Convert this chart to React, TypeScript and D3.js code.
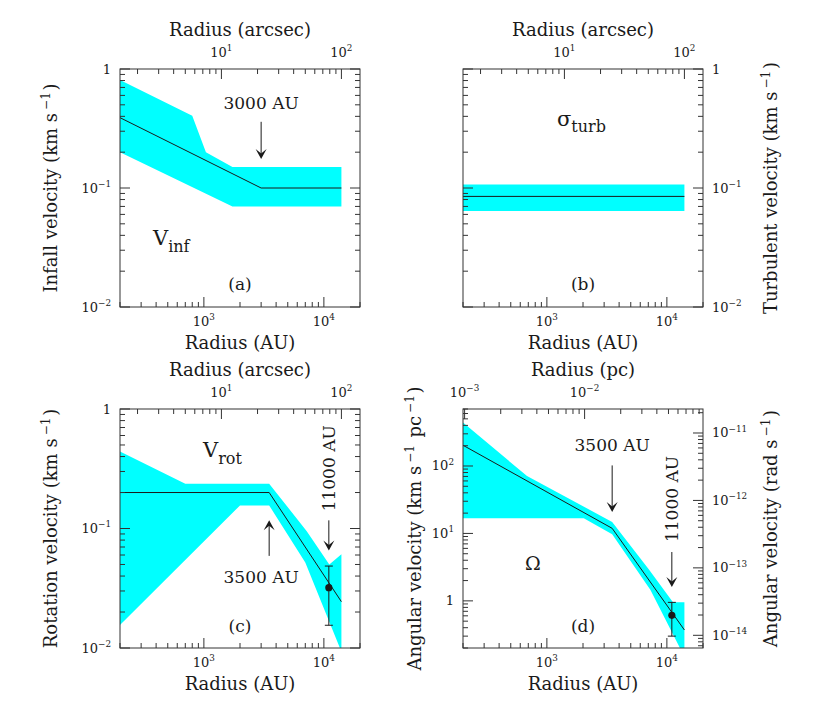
import * as d3 from "d3";
import type { ReactNode } from "react";

const W = 824;
const H = 717;
const FONT = "'DejaVu Serif', 'Liberation Serif', serif";
const INK = "#1a1a1a";
const CYAN = "#00ffff";

// secondary-axis conversions
const AU_PER_ARCSEC = 140; // 140 pc
const AU_PER_PC = 206265;
const RAD_PER_KMSPC = 3.2408e-14;

const radiusDomain: [number, number] = [200, 20000];

// (a) infall velocity, km/s
const infallR = [200, 3000, 14000];
const infallV = [0.39, 0.1, 0.1];
const infallHiR = [200, 800, 1040, 1730, 14000];
const infallHiV = [0.81, 0.405, 0.2, 0.15, 0.15];
const infallLoR = [200, 1730, 14000];
const infallLoV = [0.2, 0.07, 0.07];

// (b) turbulent velocity, km/s
const turbR = [200, 14000];
const turbV = [0.085, 0.085];
const turbHiV = [0.107, 0.107];
const turbLoV = [0.064, 0.064];

// (c) rotation velocity, km/s
const rotR = [200, 3500, 14000];
const rotV = [0.2, 0.2, 0.0244];
const rotHiR = [200, 700, 3500, 7200, 11100, 14000];
const rotHiV = [0.44, 0.237, 0.237, 0.095, 0.05, 0.061];
const rotLoR = [200, 2000, 3500, 7000, 13600, 14000];
const rotLoV = [0.0156, 0.156, 0.156, 0.052, 0.01, 0.01];
const rotPoint = { r: 11000, v: 0.032, lo: 0.0155, hi: 0.0485 };

// (d) angular velocity, km/s/pc
const omgR = [200, 3500, 14000];
const omgV = [203, 11.9, 0.37];
const omgHiR = [200, 683, 3500, 7060, 11240, 14000];
const omgHiV = [440, 71, 14.8, 2.95, 0.95, 0.95];
const omgLoR = [200, 2030, 3500, 7280, 12850, 14000];
const omgLoV = [16.8, 16.8, 9.7, 1.46, 0.2, 0.2];
const omgPoint = { r: 11000, v: 0.61, lo: 0.3, hi: 0.95 };

type Scale = d3.ScaleLogarithmic<number, number>;
type Pt = [number, number];

const zip = (r: number[], v: number[]): Pt[] => r.map((x, i) => [x, v[i]]);

function logTicks([lo, hi]: [number, number]) {
  const out: { v: number; major: boolean }[] = [];
  const e0 = Math.floor(Math.log10(lo));
  const e1 = Math.ceil(Math.log10(hi));
  for (let e = e0; e <= e1; e++) {
    for (let m = 1; m <= 9; m++) {
      const v = m * Math.pow(10, e);
      if (v >= lo * 0.9999 && v <= hi * 1.0001) out.push({ v, major: m === 1 });
    }
  }
  return out;
}

function powLabel(v: number, size: number) {
  const e = Math.round(Math.log10(v));
  if (e === 0) return <tspan>1</tspan>;
  return (
    <>
      <tspan>10</tspan>
      <tspan dy={-size * 0.45} fontSize={size * 0.68}>
        {e < 0 ? "\u2212" + -e : String(e)}
      </tspan>
    </>
  );
}

// superscript inside an axis title, back to the baseline afterwards
function sup(s: string) {
  return (
    <>
      <tspan dx={3} dy={-7} fontSize={12}>
        {s}
      </tspan>
      <tspan dy={7}>{"\u200a"}</tspan>
    </>
  );
}

interface PanelProps {
  id: string;
  left: number;
  top: number;
  w: number;
  h: number;
  yDomain: [number, number];
  topTitle: string;
  topFactor: number;
  leftLabels: boolean;
  rightLabels: boolean;
  rightFactor?: number;
  leftTitle?: ReactNode;
  leftTitleX?: number;
  rightTitle?: ReactNode;
  children: (x: Scale, y: Scale) => ReactNode;
}

const TICK = 10;
const MINOR = 5;
const TSIZE = 13;

function Panel(p: PanelProps) {
  const { left, top, w, h } = p;
  const right = left + w;
  const bottom = top + h;
  const x = d3.scaleLog().domain(radiusDomain).range([left, right]);
  const y = d3.scaleLog().domain(p.yDomain).range([bottom, top]);
  const xt = d3
    .scaleLog()
    .domain(radiusDomain.map((d) => d / p.topFactor))
    .range([left, right]);
  const rf = p.rightFactor ?? 1;
  const yr = d3
    .scaleLog()
    .domain(p.yDomain.map((d) => d * rf))
    .range([bottom, top]);
  const cx = (left + right) / 2;

  return (
    <g>
      <defs>
        <clipPath id={p.id}>
          <rect x={left} y={top} width={w} height={h} />
        </clipPath>
      </defs>
      <g clipPath={`url(#${p.id})`}>{p.children(x, y)}</g>

      {/* frame */}
      <rect x={left} y={top} width={w} height={h} fill="none" stroke="#333" strokeWidth={1} />

      {/* bottom radius axis */}
      {logTicks(radiusDomain).map((t, i) => (
        <line key={"b" + i} x1={x(t.v)} x2={x(t.v)} y1={bottom} y2={bottom - (t.major ? TICK : MINOR)} stroke="#333" />
      ))}
      {logTicks(radiusDomain)
        .filter((t) => t.major)
        .map((t, i) => (
          <text key={"bl" + i} x={x(t.v)} y={bottom + 19} textAnchor="middle" fontSize={TSIZE}>
            {powLabel(t.v, TSIZE)}
          </text>
        ))}
      <text x={cx} y={bottom + 42} textAnchor="middle" fontSize={18}>
        Radius (AU)
      </text>

      {/* top secondary axis */}
      {logTicks(xt.domain() as [number, number]).map((t, i) => (
        <line key={"t" + i} x1={xt(t.v)} x2={xt(t.v)} y1={top} y2={top + (t.major ? TICK : MINOR)} stroke="#333" />
      ))}
      {logTicks(xt.domain() as [number, number])
        .filter((t) => t.major)
        .map((t, i) => (
          <text key={"tl" + i} x={xt(t.v)} y={top - 12} textAnchor="middle" fontSize={TSIZE}>
            {powLabel(t.v, TSIZE)}
          </text>
        ))}
      <text x={cx} y={top - 33} textAnchor="middle" fontSize={18}>
        {p.topTitle}
      </text>

      {/* left axis */}
      {logTicks(p.yDomain).map((t, i) => (
        <line key={"l" + i} x1={left} x2={left + (t.major ? TICK : MINOR)} y1={y(t.v)} y2={y(t.v)} stroke="#333" />
      ))}
      {p.leftLabels &&
        logTicks(p.yDomain)
          .filter((t) => t.major)
          .map((t, i) => (
            <text key={"ll" + i} x={left - 9} y={y(t.v) + 4.5} textAnchor="end" fontSize={TSIZE}>
              {powLabel(t.v, TSIZE)}
            </text>
          ))}

      {/* right axis */}
      {logTicks(yr.domain() as [number, number]).map((t, i) => (
        <line key={"r" + i} x1={right} x2={right - (t.major ? TICK : MINOR)} y1={yr(t.v)} y2={yr(t.v)} stroke="#333" />
      ))}
      {p.rightLabels &&
        logTicks(yr.domain() as [number, number])
          .filter((t) => t.major)
          .map((t, i) => (
            <text key={"rl" + i} x={right + 9} y={yr(t.v) + 4.5} textAnchor="start" fontSize={TSIZE}>
              {powLabel(t.v, TSIZE)}
            </text>
          ))}

      {p.leftTitle && (
        <text
          transform={`translate(${p.leftTitleX ?? left - 63},${(top + bottom) / 2}) rotate(-90)`}
          textAnchor="middle"
          fontSize={18}
        >
          {p.leftTitle}
        </text>
      )}
      {p.rightTitle && (
        <text transform={`translate(${right + 74},${(top + bottom) / 2}) rotate(-90)`} textAnchor="middle" fontSize={18}>
          {p.rightTitle}
        </text>
      )}
    </g>
  );
}

function band(x: Scale, y: Scale, hi: Pt[], lo: Pt[]) {
  const line = d3
    .line<Pt>()
    .x((d) => x(d[0]))
    .y((d) => y(d[1]));
  return (line([...hi, ...lo.slice().reverse()]) ?? "") + "Z";
}

function curve(x: Scale, y: Scale, pts: Pt[]) {
  return (
    d3
      .line<Pt>()
      .x((d) => x(d[0]))
      .y((d) => y(d[1]))(pts) ?? ""
  );
}

function Arrow({ x, y1, y2 }: { x: number; y1: number; y2: number }) {
  const dir = y2 > y1 ? 1 : -1;
  const head = `M${x},${y2} L${x - 5.5},${y2 - dir * 10} L${x},${y2 - dir * 5.5} L${x + 5.5},${y2 - dir * 10} Z`;
  return (
    <g>
      <line x1={x} x2={x} y1={y1} y2={y2 - dir * 4} stroke={INK} strokeWidth={1} />
      <path d={head} fill={INK} />
    </g>
  );
}

function ErrPoint({ x, y, r, v, lo, hi }: { x: Scale; y: Scale; r: number; v: number; lo: number; hi: number }) {
  const px = x(r);
  return (
    <g stroke={INK} strokeWidth={1}>
      <line x1={px} x2={px} y1={y(lo)} y2={y(hi)} />
      <line x1={px - 4} x2={px + 4} y1={y(lo)} y2={y(lo)} />
      <line x1={px - 4} x2={px + 4} y1={y(hi)} y2={y(hi)} />
      <circle cx={px} cy={y(v)} r={3.6} fill={INK} stroke="none" />
    </g>
  );
}

const kms = (
  <>
    (km s{sup("\u22121")})
  </>
);

export default function App() {
  return (
    <svg
      width={W}
      height={H}
      viewBox={`0 0 ${W} ${H}`}
      style={{ position: "absolute", left: 0, top: 0, background: "#fff" }}
      fontFamily={FONT}
      fill={INK}
    >
      <rect width={W} height={H} fill="#fff" />

      {/* (a) */}
      <Panel
        id="ca"
        left={120}
        top={69}
        w={240}
        h={238}
        yDomain={[0.01, 1]}
        topTitle="Radius (arcsec)"
        topFactor={AU_PER_ARCSEC}
        leftLabels
        rightLabels={false}
        leftTitle={<>Infall velocity {kms}</>}
      >
        {(x, y) => (
          <>
            <path d={band(x, y, zip(infallHiR, infallHiV), zip(infallLoR, infallLoV))} fill={CYAN} />
            <path d={curve(x, y, zip(infallR, infallV))} fill="none" stroke={INK} strokeWidth={1} />
          </>
        )}
      </Panel>
      {(() => {
        const x = d3.scaleLog().domain(radiusDomain).range([120, 360]);
        const y = d3.scaleLog().domain([0.01, 1]).range([307, 69]);
        return (
          <g>
            <Arrow x={x(3000)} y1={y(0.36)} y2={y(0.175)} />
            <text x={x(3000)} y={y(0.36) - 13} textAnchor="middle" fontSize={17}>
              3000 AU
            </text>
            <text x={153} y={245} fontSize={21}>
              V<tspan dy={7} fontSize={16}>inf</tspan>
            </text>
            <text x={240} y={290} textAnchor="middle" fontSize={17}>
              (a)
            </text>
          </g>
        );
      })()}

      {/* (b) */}
      <Panel
        id="cb"
        left={463}
        top={69}
        w={240}
        h={238}
        yDomain={[0.01, 1]}
        topTitle="Radius (arcsec)"
        topFactor={AU_PER_ARCSEC}
        leftLabels={false}
        rightLabels
        rightTitle={<>Turbulent velocity {kms}</>}
      >
        {(x, y) => (
          <>
            <path d={band(x, y, zip(turbR, turbHiV), zip(turbR, turbLoV))} fill={CYAN} />
            <path d={curve(x, y, zip(turbR, turbV))} fill="none" stroke={INK} strokeWidth={1} />
          </>
        )}
      </Panel>
      <text x={557} y={126} fontSize={21}>
        σ<tspan dy={6} fontSize={16}>turb</tspan>
      </text>
      <text x={583} y={290} textAnchor="middle" fontSize={17}>
        (b)
      </text>

      {/* (c) */}
      <Panel
        id="cc"
        left={120}
        top={409}
        w={240}
        h={239}
        yDomain={[0.01, 1]}
        topTitle="Radius (arcsec)"
        topFactor={AU_PER_ARCSEC}
        leftLabels
        rightLabels={false}
        leftTitle={<>Rotation velocity {kms}</>}
      >
        {(x, y) => (
          <>
            <path d={band(x, y, zip(rotHiR, rotHiV), zip(rotLoR, rotLoV))} fill={CYAN} />
            <path d={curve(x, y, zip(rotR, rotV))} fill="none" stroke={INK} strokeWidth={1} />
          </>
        )}
      </Panel>
      {(() => {
        const x = d3.scaleLog().domain(radiusDomain).range([120, 360]);
        const y = d3.scaleLog().domain([0.01, 1]).range([648, 409]);
        return (
          <g>
            <ErrPoint x={x} y={y} {...rotPoint} />
            <Arrow x={x(3500)} y1={y(0.059)} y2={y(0.117)} />
            <text x={x(3500) - 8} y={y(0.059) + 27} textAnchor="middle" fontSize={17}>
              3500 AU
            </text>
            <Arrow x={x(11000)} y1={y(0.117)} y2={y(0.0654)} />
            <text
              transform={`translate(${x(11000) + 6},${y(0.117) - 9}) rotate(-90)`}
              textAnchor="start"
              fontSize={17}
            >
              11000 AU
            </text>
            <text x={203} y={457} fontSize={21}>
              V<tspan dy={7} fontSize={16}>rot</tspan>
            </text>
            <text x={240} y={632} textAnchor="middle" fontSize={17}>
              (c)
            </text>
          </g>
        );
      })()}

      {/* (d) */}
      <Panel
        id="cd"
        left={463}
        top={409}
        w={240}
        h={239}
        yDomain={[0.2, 700]}
        topTitle="Radius (pc)"
        topFactor={AU_PER_PC}
        leftLabels
        rightLabels
        rightFactor={RAD_PER_KMSPC}
        leftTitleX={421}
        leftTitle={
          <>
            Angular velocity (km s{sup("\u22121")} pc{sup("\u22121")})
          </>
        }
        rightTitle={<>Angular velocity (rad s{sup("\u22121")})</>}
      >
        {(x, y) => (
          <>
            <path d={band(x, y, zip(omgHiR, omgHiV), zip(omgLoR, omgLoV))} fill={CYAN} />
            <path d={curve(x, y, zip(omgR, omgV))} fill="none" stroke={INK} strokeWidth={1} />
          </>
        )}
      </Panel>
      {(() => {
        const x = d3.scaleLog().domain(radiusDomain).range([463, 703]);
        const y = d3.scaleLog().domain([0.2, 700]).range([648, 409]);
        return (
          <g>
            <ErrPoint x={x} y={y} {...omgPoint} />
            <Arrow x={x(3500)} y1={y(102)} y2={y(20.8)} />
            <text x={x(3500)} y={y(102) - 14} textAnchor="middle" fontSize={17}>
              3500 AU
            </text>
            <Arrow x={x(11000)} y1={y(5.3)} y2={y(1.6)} />
            <text
              transform={`translate(${x(11000) + 6},${y(5.3) - 10}) rotate(-90)`}
              textAnchor="start"
              fontSize={17}
            >
              11000 AU
            </text>
            <text x={525} y={570} fontSize={19}>
              Ω
            </text>
            <text x={583} y={632} textAnchor="middle" fontSize={17}>
              (d)
            </text>
          </g>
        );
      })()}
    </svg>
  );
}
